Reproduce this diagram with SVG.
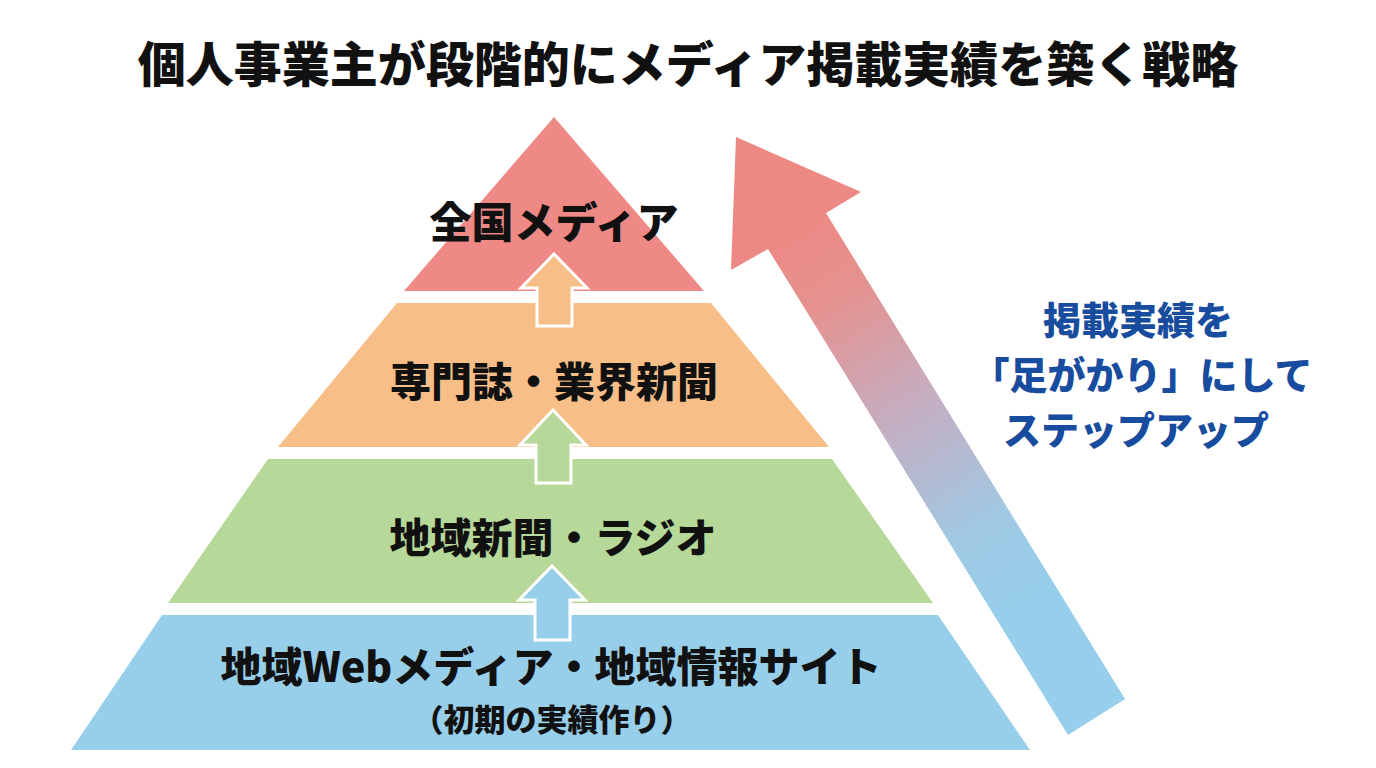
<svg xmlns="http://www.w3.org/2000/svg" width="1376" height="768" viewBox="0 0 1376 768">
  <defs>
    <style>
      .jp { font-family: "Noto Sans CJK JP", "Noto Sans CJK SC", "Noto Sans", sans-serif; font-weight: 900; }
      .lbl { fill: #111111; text-anchor: middle; }
      .side { fill: #184C9E; text-anchor: middle; font-size: 38px; }
      .step { stroke: #FFFFFF; stroke-width: 3; stroke-linejoin: miter; }
    </style>
    <linearGradient id="bigGrad" gradientUnits="userSpaceOnUse" x1="770" y1="230" x2="1010" y2="620">
      <stop offset="0" stop-color="#EE8883"/>
      <stop offset="0.2" stop-color="#E5928F"/>
      <stop offset="0.5" stop-color="#C4AEC2"/>
      <stop offset="0.8" stop-color="#A0C9E4"/>
      <stop offset="1" stop-color="#96CEEB"/>
    </linearGradient>
  </defs>
  <rect x="0" y="0" width="1376" height="768" fill="#FFFFFF"/>

  <g id="title">
    <text class="jp lbl" x="688" y="82" font-size="48">個人事業主が段階的にメディア掲載実績を築く戦略</text>
  </g>

  <g id="layer-national">
    <polygon points="554,117 704,291 404,291" fill="#EE8985"/>
  </g>
  <g id="layer-trade">
    <polygon points="397,303 711,303 829,447 278,447" fill="#F7BF87"/>
  </g>
  <g id="layer-local">
    <polygon points="268,459 832,459 933,603 168,603" fill="#B6D898"/>
  </g>
  <g id="layer-web">
    <polygon points="162,615 938,615 1030,750 71,750" fill="#97CFEB"/>
  </g>

  <g id="connectors">
    <polygon class="step" points="554,254 587,288 572,288 572,326 537,326 537,288 521,288" fill="#F7BF87"/>
    <polygon class="step" points="553,410 586,445 571,445 571,483 536,483 536,445 520,445" fill="#B6D898"/>
    <polygon class="step" points="552,566 585,600 570,600 570,640 535,640 535,600 519,600" fill="#97CFEB"/>
    <polygon id="big-arrow" points="736,137 861,192 826,213 1125,699 1068,735 768,249 731,270" fill="url(#bigGrad)"/>
  </g>

  <g id="label-national">
    <text class="jp lbl" x="554" y="238" font-size="42">全国メディア</text>
  </g>
  <g id="label-trade">
    <text class="jp lbl" x="554" y="397" font-size="41">専門誌・業界新聞</text>
  </g>
  <g id="label-local">
    <text class="jp lbl" x="553" y="553" font-size="41">地域新聞・ラジオ</text>
  </g>
  <g id="label-web">
    <text class="jp lbl" x="551" y="682" font-size="41">地域Webメディア・地域情報サイト</text>
    <text class="jp lbl" x="552" y="731" font-size="31">（初期の実績作り）</text>
  </g>

  <g id="side-note">
    <text class="jp side" x="1138" y="334">掲載実績を</text>
    <text class="jp side" x="1142" y="389">「足がかり」にして</text>
    <text class="jp side" x="1136" y="444">ステップアップ</text>
  </g>
</svg>
